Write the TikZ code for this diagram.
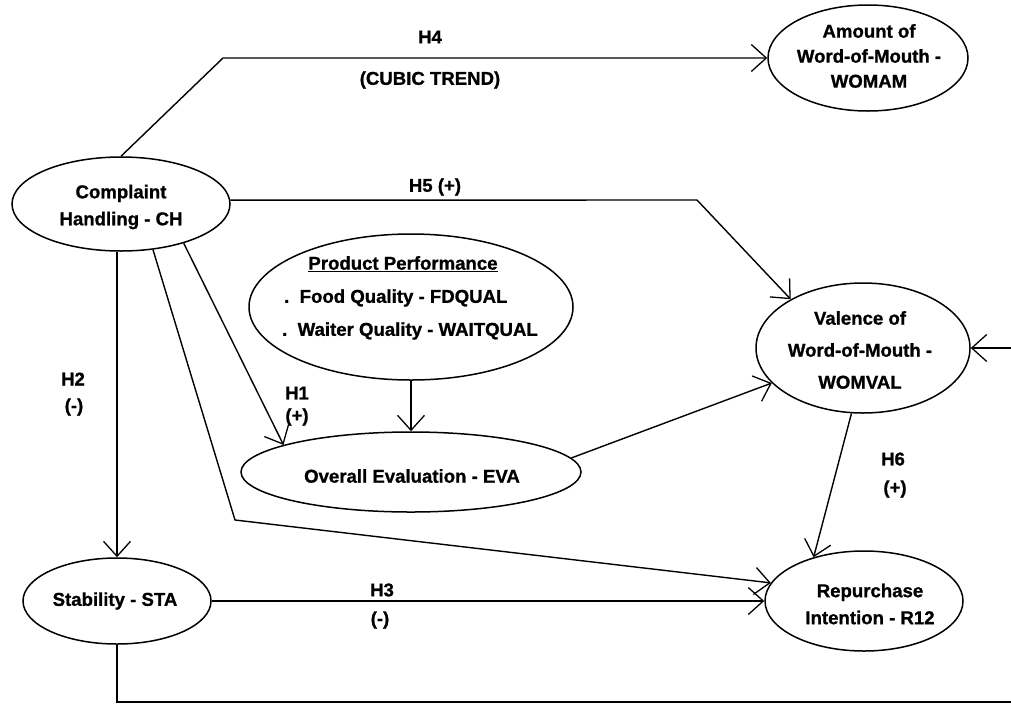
\documentclass[tikz,border=0pt]{standalone}
\usepackage{fontspec}
\setmainfont{Liberation Sans}
\newfontfamily\hv[FakeBold=1.0]{Liberation Sans Bold}
\usetikzlibrary{arrows.meta,shapes.geometric}
\tikzset{
  txt/.style={font=\hv\fontsize{18.6}{27}\selectfont, align=center, inner sep=0pt},
  oval/.style 2 args={draw, ellipse, line width=1.5pt, inner sep=0pt, minimum width=#1, minimum height=#2},
  conn/.style={line width=1.4pt},
  arr/.style={line width=1.4pt, -{Straight Barb[length=15pt,width=27pt,line width=1.3pt]}}
}
\begin{document}
\begin{tikzpicture}[x=1pt,y=-1pt]
\fill[white] (0,0) rectangle (1011,705);
\useasboundingbox (0,0) rectangle (1011,705);

% ellipses
\node[oval={218}{94}] (ch) at (121,204) {};
\node[oval={200}{106}] (wa) at (868,58) {};
\node[oval={324}{146}] (pp) at (411,307) {};
\node[oval={340}{80}] (ev) at (411,472) {};
\node[oval={214}{130}] (wv) at (863,348) {};
\node[oval={188}{86}] (sta) at (117,601) {};
\node[oval={198}{100}] (ri) at (864,601) {};

% texts inside
\node[txt] (chT) at (121,207) {Complaint\\Handling - CH};
\node[txt, font=\hv\fontsize{18.6}{25}\selectfont] (waT) at (869,56) {Amount of\\Word-of-Mouth -\\WOMAM};
\node[txt] (ppT1) at (403,264) {\underline{Product Performance}};
\node[txt, anchor=west] (ppT2) at (284,298) {.\ \ Food Quality - FDQUAL};
\node[txt, anchor=west] (ppT3) at (282,331) {.\ \ Waiter Quality - WAITQUAL};
\node[txt] (evT) at (412,476) {Overall Evaluation - EVA};
\node[txt, font=\hv\fontsize{18.6}{32}\selectfont] (wvT) at (860,350) {Valence of\\Word-of-Mouth -\\WOMVAL};
\node[txt] (staT) at (115,601) {Stability - STA};
\node[txt] (riT) at (870,604) {Repurchase\\Intention - R12};

% connectors
\coordinate (h4b) at (223,58);
\draw[arr] (ch.north) -- (h4b) -- (wa.west);
\coordinate (h5b) at (697,200);
\draw[arr] (ch.2) -- (h5b) -- (wv.146);
\draw[arr] (ch.328) -- (ev.168);
\draw[arr] (pp.south) -- (ev.north);
\draw[arr] (ev.5) -- (wv.201);
\coordinate (lb) at (235,520);
\draw[arr] (ch.305) -- (lb) -- (ri.169);
\draw[arr] (sta.north |- ch.south) -- (sta.north);
\draw[arr] (sta.east) -- (ri.west);
\draw[arr] (wv.260) -- (ri.139);
\coordinate (rin) at (1011,348);
\draw[arr] (rin) -- (wv.east);
\coordinate (bot) at (1011,702);
\draw[conn] (sta.south) |- (bot);

% labels
\node[txt] (lH4) at (430,37) {H4};
\node[txt] (lCT) at (430,80) {(CUBIC TREND)};
\node[txt] (lH5) at (435,187) {H5 (+)};
\node[txt] (lH1) at (297,393) {H1};
\node[txt] (lH1s) at (297,417) {(+)};
\node[txt] (lH2) at (73,379) {H2};
\node[txt] (lH2s) at (74,407) {(-)};
\node[txt] (lH6) at (893,459) {H6};
\node[txt] (lH6s) at (895,489) {(+)};
\node[txt] (lH3) at (382,590) {H3};
\node[txt] (lH3s) at (380,620) {(-)};
\end{tikzpicture}
\end{document}
